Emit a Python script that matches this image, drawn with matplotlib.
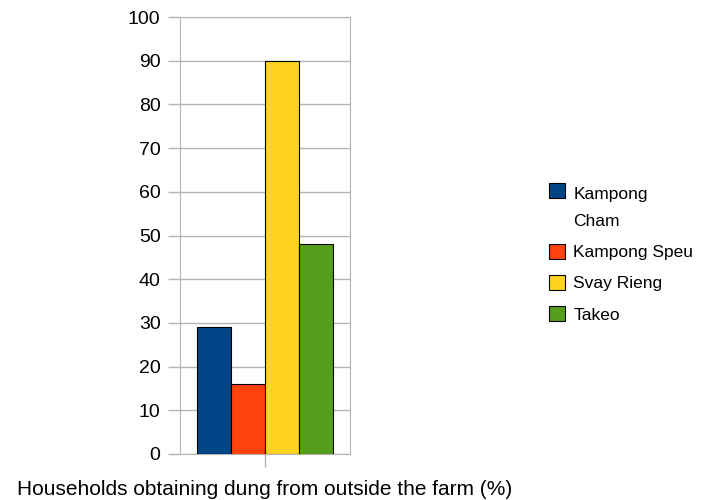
import matplotlib.pyplot as plt
import numpy as np
from matplotlib.patches import Rectangle
from matplotlib.legend_handler import HandlerPatch

plt.rcParams['font.family'] = ['Liberation Sans', 'DejaVu Sans']

provinces = ["Kampong\nCham", "Kampong Speu", "Svay Rieng", "Takeo"]
values = [29, 16, 90, 48]
colors = ["#004586", "#ff420e", "#ffd320", "#579d1c"]
yticks = np.arange(0, 101, 10)

fig = plt.figure(figsize=(7.19, 5.0), dpi=100)
ax = fig.add_axes([180/719, 46/500, 170/719, 437/500])

width = 0.2
pos = (np.arange(len(values)) - 1.5) * width
bars = []
for p, v, c, name in zip(pos, values, colors, provinces):
    b = ax.bar(p, v, width=width, color=c, edgecolor='black', linewidth=0.8, label=name, zorder=3)
    bars.append(b[0])

ax.set_xlim(-0.5, 0.5)
ax.set_ylim(0, 100)
ax.set_yticks(yticks)
ax.set_xticks([0])
ax.set_xticklabels([""])
ax.grid(axis='y', color='#b3b3b3', linewidth=1, zorder=0)
for s in ax.spines.values():
    s.set_color('#b3b3b3')
ax.tick_params(axis='y', colors='#b3b3b3', labelcolor='black', labelsize=14, length=9, width=1, pad=5)
ax.tick_params(axis='x', colors='#b3b3b3', length=9, width=1)
ax.set_xlabel("Households obtaining dung from outside the farm (%)", fontsize=15, labelpad=6)


def top_patch(legend, orig_handle, xdescent, ydescent, width, height, fontsize):
    # put the swatch beside the first line of a wrapped label
    return Rectangle((-xdescent, -ydescent + 12.5), width, height)


def plain_patch(legend, orig_handle, xdescent, ydescent, width, height, fontsize):
    return Rectangle((-xdescent, -ydescent), width, height)


hmap = {bars[0]: HandlerPatch(patch_func=top_patch)}
for b in bars[1:]:
    hmap[b] = HandlerPatch(patch_func=plain_patch)

leg = ax.legend(handles=bars, labels=provinces, loc='center left', bbox_to_anchor=(542/719, 0.49),
                bbox_transform=fig.transFigure, handler_map=hmap,
                frameon=False, fontsize=12.5, handlelength=0.95, handleheight=0.95,
                handletextpad=0.45, labelspacing=0.85, borderaxespad=0)
for t in leg.get_texts():
    t.set_linespacing(1.95)

fig.savefig("out.png", dpi=100)
